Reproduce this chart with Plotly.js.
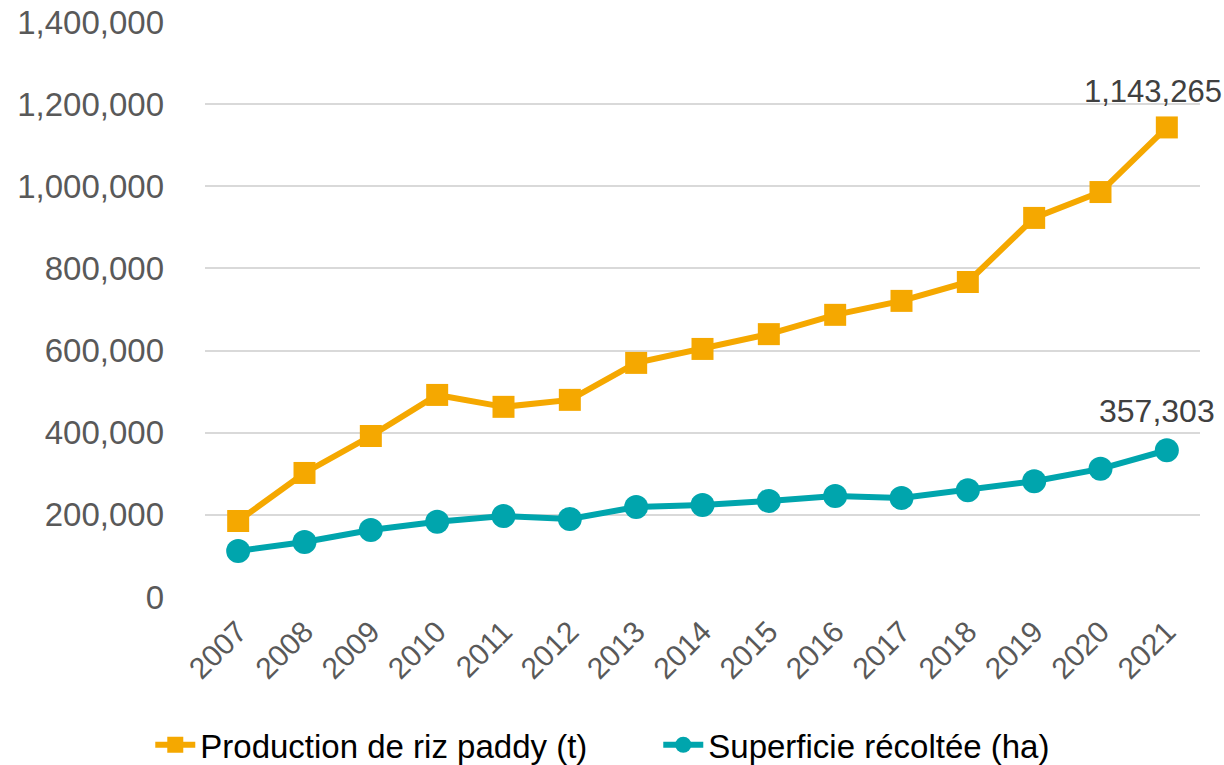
<!DOCTYPE html>
<html>
<head>
<meta charset="utf-8">
<script src="https://cdn.plot.ly/plotly-3.0.1.min.js"></script>
<style>html,body{margin:0;padding:0;background:#fff;}#chart{width:1224px;height:765px;}</style>
</head>
<body>
<div id="chart"></div>
<script>
const years = ["2007","2008","2009","2010","2011","2012","2013","2014","2015","2016","2017","2018","2019","2020","2021"];
const production = [185000,302000,392000,492000,463000,480000,570000,604000,640000,687000,721000,767000,923000,986000,1143265];
const superficie = [112000,134000,163000,183000,197000,190000,219000,224000,234000,246000,241000,260000,282000,312000,357303];
const yTicks = [0,200000,400000,600000,800000,1000000,1200000,1400000];
const yTickLabels = ["0","200,000","400,000","600,000","800,000","1,000,000","1,200,000","1,400,000"];
const nameProd = "Production de riz paddy (t)";
const nameSup = "Superficie récoltée (ha)";

const font = "Liberation Sans, Arial, sans-serif";
const last = years.length - 1;

function fmt(v){ return String(v).replace(/\B(?=(\d{3})+(?!\d))/g, ","); }

const traces = [
  {x: years, y: production, name: nameProd, type: "scatter", mode: "lines+markers",
   line: {color: "#F5A800", width: 6}, marker: {symbol: "square", size: 22, color: "#F5A800"}, cliponaxis: false},
  {x: years, y: superficie, name: nameSup, type: "scatter", mode: "lines+markers",
   line: {color: "#00A5AD", width: 6}, marker: {symbol: "circle", size: 24, color: "#00A5AD"}, cliponaxis: false}
];

const annotations = [
  {x: last, y: production[last], xref: "x", yref: "y", text: fmt(production[last]),
   showarrow: false, xanchor: "center", yanchor: "bottom", xshift: -14, yshift: 16,
   font: {family: font, size: 31, color: "#404040"}},
  {x: last, y: superficie[last], xref: "x", yref: "y", text: fmt(superficie[last]),
   showarrow: false, xanchor: "center", yanchor: "bottom", xshift: -10, yshift: 19,
   font: {family: font, size: 32, color: "#404040"}}
];

const layout = {
  width: 1224, height: 765,
  margin: {l: 205, r: 24, t: 22, b: 168, autoexpand: false},
  paper_bgcolor: "#fff", plot_bgcolor: "#fff",
  font: {family: font, color: "#595959"},
  showlegend: true,
  annotations: annotations,
  legend: {orientation: "h", x: -0.055, xanchor: "left", y: -0.257, yanchor: "middle",
    font: {family: font, size: 33, color: "#000"}, itemwidth: 40, traceorder: "normal",
    entrywidth: 453, entrywidthmode: "pixels"},
  xaxis: {type: "category", range: [-0.5, 14.5], tickangle: -45, showgrid: false, automargin: false,
    tickfont: {family: font, size: 30, color: "#595959"}, ticks: "", showline: false, zeroline: false,
    ticklabelstandoff: 10},
  yaxis: {range: [0, 1400000], tickvals: yTicks, ticktext: yTickLabels, automargin: false,
    tickfont: {family: font, size: 33, color: "#595959"}, gridcolor: "#D9D9D9", gridwidth: 2,
    zeroline: false, showline: false, ticks: "", ticklabelstandoff: 40}
};

Plotly.newPlot("chart", traces, layout, {displayModeBar: false});
</script>
</body>
</html>
